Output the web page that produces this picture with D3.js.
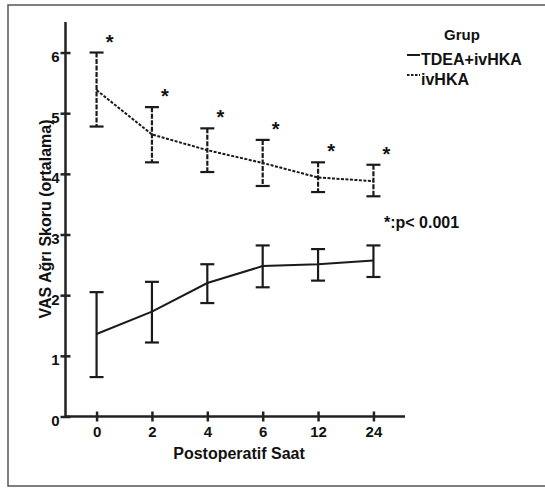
<!DOCTYPE html>
<html>
<head>
<meta charset="utf-8">
<style>
  body { margin: 0; background: #fff; }
  svg text { font-family: "Liberation Sans", Arial, sans-serif; font-weight: bold; fill: #111; }
  .axis path, .axis line { stroke: #222; stroke-width: 2.5; }
</style>
<title>VAS Ağrı Skoru</title>
</head>
<body>
<script src="https://cdn.jsdelivr.net/npm/d3@7"></script>
<script>
  // values
  var hours = ["0", "2", "4", "6", "12", "24"];
  var tdeaMean  = [1.36, 1.73, 2.20, 2.48, 2.51, 2.57];
  var tdeaUpper = [2.05, 2.22, 2.51, 2.82, 2.76, 2.82];
  var tdeaLower = [0.65, 1.22, 1.87, 2.13, 2.24, 2.30];
  var ivMean  = [5.38, 4.65, 4.39, 4.18, 3.94, 3.88];
  var ivUpper = [6.00, 5.10, 4.75, 4.56, 4.19, 4.15];
  var ivLower = [4.78, 4.19, 4.03, 3.80, 3.70, 3.63];
  var sigMarks = ["*", "*", "*", "*", "*", "*"];
  var yTicks = [0, 1, 2, 3, 4, 5, 6];
  var seriesNames = ["TDEA+ivHKA", "ivHKA"];

  var width = 545, height = 488;
  var svg = d3.select("body").append("svg").attr("width", width).attr("height", height);

  // frame
  svg.append("rect").attr("x", 8).attr("y", 5).attr("width", 560).attr("height", 481)
    .attr("fill", "none").attr("stroke", "#555").attr("stroke-width", 1.5);

  var x = d3.scalePoint().domain(hours).range([65, 405]).padding(0.57);
  var y = d3.scaleLinear().domain([0, 6.5]).range([416.5, 22.2]);

  var xAxis = d3.axisBottom(x).tickSize(5).tickPadding(5).tickSizeOuter(0);
  var yAxis = d3.axisLeft(y).tickValues(yTicks).tickFormat(d3.format("d")).tickSize(5).tickPadding(1).tickSizeOuter(0);

  var gx = svg.append("g").attr("class", "axis").attr("transform", "translate(0,416.5)").call(xAxis)
    .attr("font-size", null).attr("font-family", null);
  gx.select(".domain").attr("d", "M65,0H405");
  gx.selectAll(".tick line").attr("y1", -5).attr("y2", 5);
  gx.selectAll(".tick text").style("font-size", "15px").attr("fill", "#111");

  var gy = svg.append("g").attr("class", "axis").attr("transform", "translate(65.5,0)").call(yAxis)
    .attr("font-size", null).attr("font-family", null);
  gy.select(".domain").attr("d", "M0,416.5V22");
  gy.selectAll(".tick line").attr("x1", -5).attr("x2", 5);
  gy.selectAll(".tick text").style("font-size", "15px").attr("fill", "#111").attr("dy", "0.6em");

  var tdea = hours.map(function(h, i) { return {h: h, m: tdeaMean[i], hi: tdeaUpper[i], lo: tdeaLower[i]}; });
  var iv = hours.map(function(h, i) { return {h: h, m: ivMean[i], hi: ivUpper[i], lo: ivLower[i], s: sigMarks[i]}; });

  var line = d3.line().x(function(d) { return x(d.h); }).y(function(d) { return y(d.m); });

  function drawSeries(data, dash, barDash) {
    var g = svg.append("g").attr("stroke", "#1a1a1a").attr("fill", "none");
    g.append("path").datum(data).attr("d", line).attr("stroke-width", 2).attr("stroke-dasharray", dash);
    var bars = g.selectAll(".bar").data(data).enter().append("g");
    bars.append("line").attr("x1", function(d) { return x(d.h); }).attr("x2", function(d) { return x(d.h); })
      .attr("y1", function(d) { return y(d.hi); }).attr("y2", function(d) { return y(d.lo); })
      .attr("stroke-width", 2.2).attr("stroke-dasharray", barDash);
    bars.append("line").attr("x1", function(d) { return x(d.h) - 7; }).attr("x2", function(d) { return x(d.h) + 7; })
      .attr("y1", function(d) { return y(d.hi); }).attr("y2", function(d) { return y(d.hi); }).attr("stroke-width", 2.2);
    bars.append("line").attr("x1", function(d) { return x(d.h) - 7; }).attr("x2", function(d) { return x(d.h) + 7; })
      .attr("y1", function(d) { return y(d.lo); }).attr("y2", function(d) { return y(d.lo); }).attr("stroke-width", 2.2);
  }
  drawSeries(tdea, null, null);
  drawSeries(iv, "3,1.5", "5,1.5");

  // significance stars
  svg.selectAll(".star").data(iv).enter().append("text")
    .attr("x", function(d) { return x(d.h) + 13; })
    .attr("y", function(d) { return y(d.hi) - 16; })
    .attr("dy", "0.6em").attr("text-anchor", "middle").style("font-size", "20px")
    .text(function(d) { return d.s; });

  svg.append("text").attr("x", 384).attr("y", 228).style("font-size", "16px").text("*:p< 0.001");

  // axis titles
  svg.append("text").attr("x", 239).attr("y", 459).attr("text-anchor", "middle").style("font-size", "16px")
    .text("Postoperatif Saat");
  svg.append("text").attr("transform", "translate(51,219) rotate(-90)").attr("text-anchor", "middle")
    .style("font-size", "16px").text("VAS Ağrı Skoru (ortalama)");

  // legend
  svg.append("text").attr("x", 462).attr("y", 40).attr("text-anchor", "middle").style("font-size", "15px").text("Grup");
  var leg = svg.selectAll(".leg").data(seriesNames).enter().append("g")
    .attr("transform", function(d, i) { return "translate(407," + (65 + i * 20) + ")"; });
  leg.append("line").attr("x1", 0).attr("x2", 13).attr("y1", -10).attr("y2", -10)
    .attr("stroke", "#1a1a1a").attr("stroke-width", 2)
    .attr("stroke-dasharray", function(d, i) { return i === 1 ? "2.5,1.5" : null; });
  leg.append("text").attr("x", 14).attr("y", 0).style("font-size", "16px").text(function(d) { return d; });
</script>
</body>
</html>
